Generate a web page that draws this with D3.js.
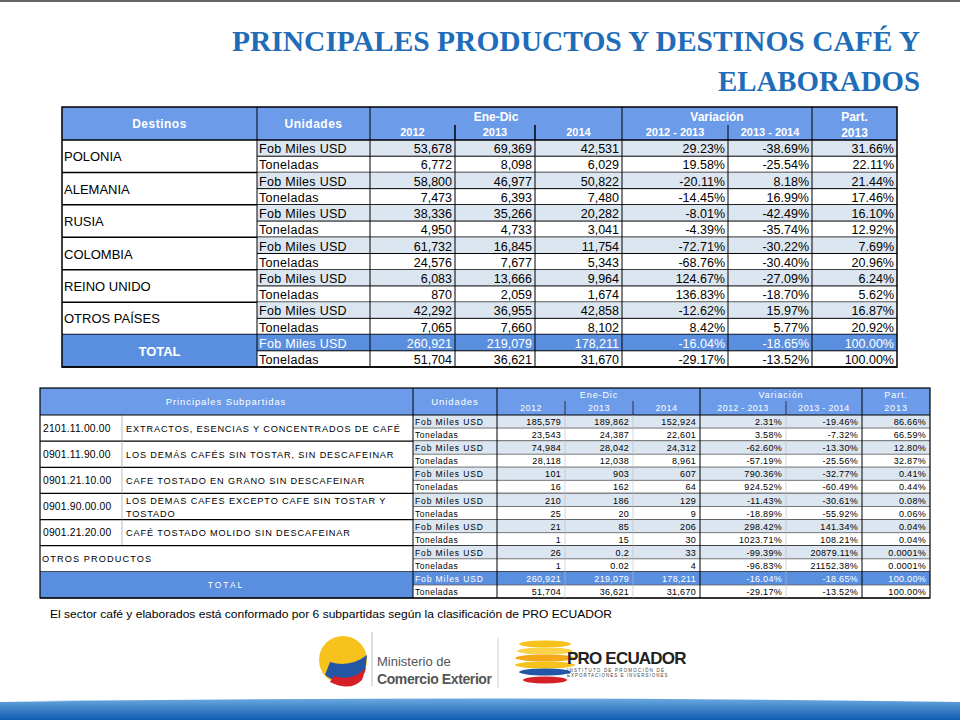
<!DOCTYPE html>
<html><head><meta charset="utf-8">
<script src="https://cdn.jsdelivr.net/npm/d3@7"></script>
<style>body{margin:0;background:#fff}svg{display:block}</style>
</head><body>
<script>
// ---- Data: table 1 ----
const destinos = ["POLONIA","ALEMANIA","RUSIA","COLOMBIA","REINO UNIDO","OTROS PAÍSES"];
const fob = [
 ["53,678","69,369","42,531","29.23%","-38.69%","31.66%"],
 ["58,800","46,977","50,822","-20.11%","8.18%","21.44%"],
 ["38,336","35,266","20,282","-8.01%","-42.49%","16.10%"],
 ["61,732","16,845","11,754","-72.71%","-30.22%","7.69%"],
 ["6,083","13,666","9,964","124.67%","-27.09%","6.24%"],
 ["42,292","36,955","42,858","-12.62%","15.97%","16.87%"]];
const ton = [
 ["6,772","8,098","6,029","19.58%","-25.54%","22.11%"],
 ["7,473","6,393","7,480","-14.45%","16.99%","17.46%"],
 ["4,950","4,733","3,041","-4.39%","-35.74%","12.92%"],
 ["24,576","7,677","5,343","-68.76%","-30.40%","20.96%"],
 ["870","2,059","1,674","136.83%","-18.70%","5.62%"],
 ["7,065","7,660","8,102","8.42%","5.77%","20.92%"]];
const totalFob = ["260,921","219,079","178,211","-16.04%","-18.65%","100.00%"];
const totalTon = ["51,704","36,621","31,670","-29.17%","-13.52%","100.00%"];
// ---- Data: table 2 ----
const codes = ["2101.11.00.00","0901.11.90.00","0901.21.10.00","0901.90.00.00","0901.21.20.00",""];
const subpartidas = [["EXTRACTOS, ESENCIAS Y CONCENTRADOS DE CAFÉ"],["LOS DEMÁS CAFÉS SIN TOSTAR, SIN DESCAFEINAR"],["CAFE TOSTADO EN GRANO SIN DESCAFEINAR"],["LOS DEMAS CAFES EXCEPTO CAFE SIN TOSTAR Y","TOSTADO"],["CAFÉ TOSTADO MOLIDO SIN DESCAFEINAR"],["OTROS PRODUCTOS"]];
const fob2 = [
 ["185,579","189,862","152,924","2.31%","-19.46%","86.66%"],
 ["74,984","28,042","24,312","-62.60%","-13.30%","12.80%"],
 ["101","903","607","790.36%","-32.77%","0.41%"],
 ["210","186","129","-11.43%","-30.61%","0.08%"],
 ["21","85","206","298.42%","141.34%","0.04%"],
 ["26","0.2","33","-99.39%","20879.11%","0.0001%"]];
const ton2 = [
 ["23,543","24,387","22,601","3.58%","-7.32%","66.59%"],
 ["28,118","12,038","8,961","-57.19%","-25.56%","32.87%"],
 ["16","162","64","924.52%","-60.49%","0.44%"],
 ["25","20","9","-18.89%","-55.92%","0.06%"],
 ["1","15","30","1023.71%","108.21%","0.04%"],
 ["1","0.02","4","-96.83%","21152.38%","0.0001%"]];
const units = ["Fob Miles USD","Toneladas"];
const years = ["2012","2013","2014"];
const periods = ["2012 - 2013","2013 - 2014"];

const HB="#6c9be9", SH="#dce6f1", TB="#5a8fe0";
const svg=d3.select("body").append("svg").attr("width",960).attr("height",720);
svg.append("rect").attr("width",960).attr("height",2).attr("fill","#666");
const title=svg.append("text").attr("text-anchor","end").attr("fill","#1f6db8")
 .attr("font-family","Liberation Serif, serif").attr("font-weight","bold").attr("font-size",30);
title.append("tspan").attr("x",920).attr("y",51).attr("textLength",688).attr("lengthAdjust","spacingAndGlyphs").text("PRINCIPALES PRODUCTOS Y DESTINOS CAFÉ Y");
title.append("tspan").attr("x",920).attr("y",91).attr("textLength",202).attr("lengthAdjust","spacingAndGlyphs").text("ELABORADOS");

function line(g,x1,y1,x2,y2,w,c){g.append("line").attr("x1",x1).attr("y1",y1).attr("x2",x2).attr("y2",y2).attr("stroke",c||"#000").attr("stroke-width",w||1);}
function txt(g,x,y,s,o){const t=g.append("text").attr("x",x).attr("y",y).text(s)
 .attr("font-family","Liberation Sans, Arial, sans-serif").attr("font-size",o.fs||12)
 .attr("text-anchor",o.a||"start").attr("fill",o.c||"#000").attr("font-weight",o.b?"bold":"normal");
 if(o.ls)t.attr("letter-spacing",o.ls);return t;}

// ===== Table 1 =====
{
const g=svg.append("g");
const cx=[62,257,370,455,535,622,728,812,897];
const y0=107, hH=33;
const y=d3.scaleLinear().domain([0,14]).range([140,367]);
g.append("rect").attr("x",62).attr("y",y0).attr("width",835).attr("height",hH).attr("fill",HB);
const allF=fob.concat([totalFob]), allT=ton.concat([totalTon]);
for(let i=0;i<7;i++){
 const yf=y(2*i), yt=y(2*i+1), ye=y(2*i+2);
 const last=i===6;
 if(last) g.append("rect").attr("x",62).attr("y",yf).attr("width",195).attr("height",ye-yf).attr("fill",TB);
 g.append("rect").attr("x",257).attr("y",yf).attr("width",640).attr("height",yt-yf).attr("fill",last?TB:SH);
 txt(g,259,yt-3,units[0],{fs:12.5,c:last?"#fff":"#000",ls:0.3});
 txt(g,259,ye-3,units[1],{fs:12.5,ls:0.3});
 if(!last) txt(g,64,yf+(ye-yf)/2+5,destinos[i],{fs:13});
 else txt(g,159.5,yf+(ye-yf)/2+5,"TOTAL",{fs:13,b:1,c:"#fff",a:"middle"});
 for(let j=0;j<6;j++){
  txt(g,cx[j+3]-3,yt-3,allF[i][j],{fs:12.5,a:"end",c:last?"#fff":"#000"});
  txt(g,cx[j+3]-3,ye-3,allT[i][j],{fs:12.5,a:"end"});
 }
 line(g,62,ye,897,ye,1.5);
 line(g,257,yt,897,yt,1);
}
txt(g,159.5,128,"Destinos",{fs:12,b:1,c:"#fff",a:"middle",ls:0.5});
txt(g,313.5,128,"Unidades",{fs:12,b:1,c:"#fff",a:"middle",ls:0.5});
txt(g,496,121,"Ene-Dic",{fs:12,b:1,c:"#fff",a:"middle"});
txt(g,717,121,"Variación",{fs:12,b:1,c:"#fff",a:"middle"});
txt(g,854.5,121,"Part.",{fs:12,b:1,c:"#fff",a:"middle"});
txt(g,854.5,137,"2013",{fs:12,b:1,c:"#fff",a:"middle"});
years.forEach((s,k)=>txt(g,(cx[2+k]+cx[3+k])/2,136,s,{fs:11,b:1,c:"#fff",a:"middle"}));
periods.forEach((s,k)=>txt(g,(cx[5+k]+cx[6+k])/2,136,s,{fs:11,b:1,c:"#fff",a:"middle"}));
line(g,455,125,455,140,1.5);line(g,535,125,535,140,1.5);line(g,728,125,728,140,1);
g.append("rect").attr("x",62).attr("y",y0).attr("width",835).attr("height",367-y0).attr("fill","none").attr("stroke","#000").attr("stroke-width",1.5);
line(g,62,140,897,140,1.5);
[257,370,622,812].forEach(x=>line(g,x,y0,x,367,1));
[455,535].forEach(x=>line(g,x,140,x,367,1));
line(g,728,140,728,367,1);
}

// ===== Table 2 =====
{
const g=svg.append("g");
const cx=[40,122,413,497,565,633,700,786,862,930];
const y0=388;
const y=d3.scaleLinear().domain([0,14]).range([415,598]);
g.append("rect").attr("x",40).attr("y",y0).attr("width",890).attr("height",27).attr("fill",HB);
const allF=fob2.concat([totalFob]), allT=ton2.concat([totalTon]);
const fs=8.5, fsd=9.2, ls=0.85;
for(let i=0;i<7;i++){
 const yf=y(2*i), yt=y(2*i+1), ye=y(2*i+2), last=i===6;
 if(last) g.append("rect").attr("x",40).attr("y",yf).attr("width",373).attr("height",ye-yf).attr("fill",TB);
 g.append("rect").attr("x",413).attr("y",yf).attr("width",517).attr("height",yt-yf).attr("fill",last?TB:SH);
 txt(g,415,yt-3,units[0],{fs,ls:0.9,c:last?"#fff":"#000"});
 txt(g,415,ye-3,units[1],{fs,ls:0.5});
 for(let j=0;j<6;j++){
  txt(g,cx[j+4]-4,yt-3,allF[i][j],{fs:9,a:"end",c:last?"#fff":"#000",ls:0.3});
  txt(g,cx[j+4]-4,ye-3,allT[i][j],{fs:9,a:"end",ls:0.3});
 }
 const mid=(yf+ye)/2;
 if(last) txt(g,226,mid+3,"TOTAL",{fs,ls:2,c:"#fff",a:"middle"});
 else if(i===5) txt(g,42,mid+3,subpartidas[i][0],{fs:fsd,ls:1.1});
 else {
  txt(g,43,mid+3.5,codes[i],{fs:10.3,ls:0.2});
  const d=subpartidas[i];
  if(d.length===1) txt(g,126,mid+3.5,d[0],{fs:fsd,ls});
  else {txt(g,126,yt-3,d[0],{fs:fsd,ls});txt(g,126,ye-2.5,d[1],{fs:fsd,ls});}
  line(g,122,yf,122,ye,1,"#bbb");
 }
 line(g,40,ye,930,ye,1.2);
 line(g,413,yt,930,yt,0.8,"#555");
}
txt(g,226,405,"Principales Subpartidas",{fs:9.5,ls:0.9,c:"#fff",a:"middle"});
txt(g,455,405,"Unidades",{fs:9.5,ls:0.9,c:"#fff",a:"middle"});
txt(g,599,398,"Ene-Dic",{fs:9,ls:0.9,c:"#fff",a:"middle"});
txt(g,781,398,"Variación",{fs:9,ls:0.9,c:"#fff",a:"middle"});
txt(g,896,398,"Part.",{fs:9,ls:0.9,c:"#fff",a:"middle"});
txt(g,896,411,"2013",{fs:9,ls:0.9,c:"#fff",a:"middle"});
years.forEach((s,k)=>txt(g,(cx[3+k]+cx[4+k])/2,411,s,{fs:9,ls:0.5,c:"#fff",a:"middle"}));
periods.forEach((s,k)=>txt(g,(cx[6+k]+cx[7+k])/2,411,s,{fs:9,ls:0.3,c:"#fff",a:"middle"}));
[565,633,786].forEach(x=>line(g,x,401,x,415,1,"#334"));
g.append("rect").attr("x",40).attr("y",y0).attr("width",890).attr("height",598-y0).attr("fill","none").attr("stroke","#000").attr("stroke-width",1.2);
line(g,40,415,930,415,1.2);
[413,497,700,862].forEach(x=>line(g,x,y0,x,598,1));
[565,633,786].forEach(x=>line(g,x,415,x,598,0.6,"#bbb"));
txt(g,50,618,"El sector café y elaborados está conformado por  6 subpartidas según la clasificación de PRO ECUADOR",{fs:11.5}).attr("textLength",562).attr("lengthAdjust","spacingAndGlyphs");
}

// ===== logos & footer =====
{
const g=svg.append("g");
const grad=svg.append("defs").append("linearGradient").attr("id","bg").attr("x1",0).attr("y1",0).attr("x2",0).attr("y2",1);
grad.append("stop").attr("offset","0").attr("stop-color","#6aa8e0");
grad.append("stop").attr("offset","1").attr("stop-color","#0f5cb0");
g.append("path").attr("d","M0,702 Q480,695 960,702 L960,720 L0,720 Z").attr("fill","url(#bg)");
g.append("circle").attr("cx",343).attr("cy",660).attr("r",24).attr("fill","#f6c21b");
g.append("path").attr("d","M325,675 Q345,690 365,672 L367,655 Q350,668 330,662 Z").attr("fill","#2456a6");
g.append("path").attr("d","M330,682 Q350,692 362,680 L366,668 Q352,682 334,676 Z").attr("fill","#d62027");
line(g,372,632,372,686,1,"#bbb");
txt(g,377,666,"Ministerio de",{fs:13,c:"#555"});
txt(g,377,684,"Comercio Exterior",{fs:14,b:1,c:"#555",ls:-0.4});
line(g,498,638,498,688,1,"#ccc");
[["#f6c21b",644,20],["#f9d34a",651,22],["#f6a81b",658,24],["#f6c21b",665,24],["#2456a6",672,20],["#d62027",680,16]]
 .forEach(([c,yy,w])=>g.append("ellipse").attr("cx",545).attr("cy",yy).attr("rx",w+6).attr("ry",3.5).attr("fill",c));
txt(g,567,664,"PRO ECUADOR",{fs:17,b:1,c:"#222",ls:-0.8});
txt(g,567,672,"INSTITUTO DE PROMOCIÓN DE",{fs:4.5,c:"#444",ls:1.2});
txt(g,567,677,"EXPORTACIONES E INVERSIONES",{fs:4.5,c:"#444",ls:1});
}
</script>
</body></html>
